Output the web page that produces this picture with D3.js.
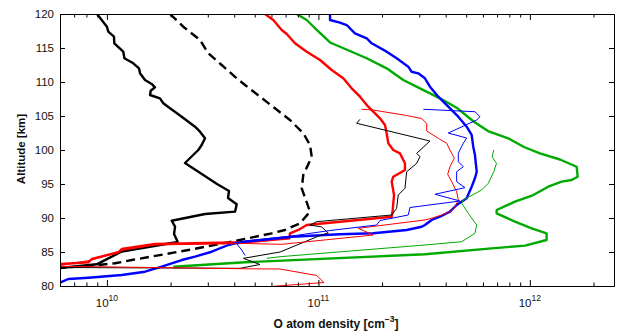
<!DOCTYPE html>
<html>
<head>
<meta charset="utf-8">
<script src="https://cdn.jsdelivr.net/npm/d3@7"></script>
<style>
  body { margin: 0; background: #fff; }
  svg { display: block; font-family: "Liberation Sans", Arial, Helvetica, sans-serif; }
</style>
</head>
<body>
<svg id="chart" width="617" height="334"></svg>
<script>
// altitude (km), O density (cm^-3)
const altitudeTicks = [80, 85, 90, 95, 100, 105, 110, 115, 120];
const densityTicks = [1e10, 1e11, 1e12];
const densityMinor = [7e9, 8e9, 9e9, 2e10, 3e10, 4e10, 5e10, 6e10, 7e10, 8e10, 9e10,
  2e11, 3e11, 4e11, 5e11, 6e11, 7e11, 8e11, 9e11, 2e12];

const thickBlack = [[120,8.98e9],[118.13,1.0e10],[117.4,1.015e10],[116.66,1.08e10],[115.69,1.084e10],[114.46,1.195e10],[113.49,1.21e10],[112.75,1.333e10],[112.01,1.418e10],[111.28,1.434e10],[110.29,1.514e10],[109.71,1.628e10],[109.22,1.688e10],[108.72,1.611e10],[108.09,1.599e10],[107.6,1.782e10],[106.87,1.848e10],[106.13,1.988e10],[104.9,2.258e10],[103.43,2.61e10],[102.69,2.755e10],[101.72,2.91e10],[100.74,2.807e10],[100.0,2.705e10],[98.09,2.34e10],[95.0,3.316e10],[93.97,3.779e10],[92.94,3.738e10],[92.01,4.11e10],[90.93,4.035e10],[90.59,2.91e10],[89.6,2.025e10],[88.72,2.1e10],[87.65,2.077e10],[86.47,2.162e10],[85.07,1.175e10],[83.19,8.95e9],[82.65,6.0e9],[82.5,5.0e9]];

const dashedBlack = [[120,1.988e10],[118.13,2.297e10],[116.18,2.755e10],[114.22,3.016e10],[112.5,3.49e10],[110.54,4.11e10],[109.56,4.498e10],[107.84,5.297e10],[106.13,6.234e10],[104.41,7.34e10],[102.46,8.485e10],[100.74,9.13e10],[99.01,9.3e10],[96.32,8.485e10],[94.37,8.34e10],[90.93,9.13e10],[89.22,8.18e10],[88.24,6.95e10],[87.75,6.015e10],[86.76,4.26e10],[85.29,2.426e10],[83.82,1.31e10],[83.34,1.092e10],[83.09,9.11e9],[82.65,6.0e9],[82.5,5.0e9]];

const thickRed = [[120,5.59e10],[119.12,6.12e10],[117.65,6.71e10],[117.06,7.085e10],[115.69,7.753e10],[114.46,8.805e10],[113.24,1.018e11],[111.76,1.156e11],[110.54,1.311e11],[109.07,1.437e11],[107.84,1.573e11],[106.37,1.721e11],[105.63,1.818e11],[104.66,1.956e11],[103.68,2.065e11],[102.46,2.103e11],[100.99,2.141e11],[100.0,2.26e11],[99.51,2.43e11],[98.04,2.567e11],[97.06,2.567e11],[96.07,2.26e11],[95.34,2.222e11],[93.38,2.279e11],[91.18,2.246e11],[90.19,2.222e11],[88.97,8.805e10],[88.24,8.035e10],[87.75,7.34e10],[87.01,7.285e10],[86.43,4.5e10],[86.18,1.688e10],[85.44,1.175e10],[84.96,1.132e10],[83.97,8.48e9],[83.49,8.17e9],[83.24,6.11e9],[83.16,5.0e9]];

const thickGreen = [[120,7.898e10],[119.12,8.805e10],[117.65,9.82e10],[115.81,1.135e11],[114.56,1.41e11],[113.49,1.692e11],[112.01,2.103e11],[110.29,2.52e11],[109.07,3.023e11],[107.6,3.757e11],[106.13,4.548e11],[104.16,5.44e11],[102.79,6.34e11],[101.72,7.9e11],[100.44,9.38e11],[99.51,1.116e12],[98.6,1.388e12],[97.54,1.665e12],[96.07,1.683e12],[95.59,1.576e12],[95.34,1.414e12],[94.6,1.222e12],[93.38,1.038e12],[92.4,8.5e11],[91.18,6.966e11],[90.69,6.966e11],[89.46,8.5e11],[88.49,1.02e12],[87.75,1.2e12],[86.76,1.2e12],[85.93,9.48e11],[85.54,6.6e11],[84.66,3.19e11],[83.49,4.5e10],[82.84,2.06e10]];

const thickBlue = [[120,1.135e11],[119.12,1.135e11],[118.72,1.265e11],[118.38,1.361e11],[117.16,1.489e11],[116.43,1.692e11],[115.69,1.786e11],[114.46,2.103e11],[113.49,2.345e11],[112.25,2.661e11],[111.51,2.761e11],[111.28,2.967e11],[110.54,3.19e11],[109.31,3.37e11],[107.84,3.69e11],[106.37,4.114e11],[104.9,4.587e11],[103.43,5.026e11],[102.21,5.307e11],[100.49,5.4e11],[99.26,5.5e11],[96.81,5.606e11],[95.84,5.5e11],[94.6,5.307e11],[92.9,5.026e11],[91.91,4.507e11],[90.93,4.19e11],[90.19,3.758e11],[89.71,3.434e11],[88.97,3.19e11],[88.72,3.079e11],[88.24,2.616e11],[87.75,1.818e11],[87.6,1.265e11],[87.25,7.48e10],[86.51,4.5e10],[86.28,4.035e10],[86.03,3.75e10],[85.04,3.13e10],[84.31,2.61e10],[83.82,2.258e10],[82.84,1.816e10],[82.1,1.514e10],[81.62,1.175e10],[81.22,8.17e9],[81.03,6.57e9],[80.49,6.0e9],[80.37,5.0e9]];

const thinBlack = [[104.51,1.573e11],[103.93,1.517e11],[101.32,3.37e11],[99.51,2.916e11],[99.01,3.023e11],[98.04,2.916e11],[96.81,2.616e11],[94.37,2.567e11],[93.38,2.386e11],[91.43,2.345e11],[90.44,2.222e11],[89.46,9.82e10],[88.97,9.13e10],[88.68,1.037e11],[87.79,1.114e11],[87.43,1.018e11],[85.0,6.59e10],[84.07,4.42e10],[83.16,5.29e10],[82.6,4.26e10],[82.72,6.0e9],[82.75,5.0e9]];

const thinRed = [[105.99,1.602e11],[105.88,1.818e11],[105.07,2.616e11],[104.63,3.079e11],[103.9,3.252e11],[102.79,3.252e11],[101.72,3.69e11],[100.99,4.043e11],[100.0,4.19e11],[98.78,4.392e11],[97.54,4.19e11],[96.43,4.088e11],[95.34,4.269e11],[93.87,4.507e11],[92.65,4.587e11],[91.66,4.425e11],[90.93,4.19e11],[90.44,3.828e11],[89.96,3.434e11],[89.71,3.19e11],[88.49,1.545e11],[87.5,1.818e11],[86.13,6.71e10],[86.25,4.5e10],[86.03,1.688e10],[85.22,1.175e10],[83.82,8.48e9],[83.01,6.0e9],[82.94,5.0e9],[82.53,4.5e10],[82.5,6.59e10],[81.54,9.82e10],[80.51,1.063e11],[80.0,6.35e10],[79.7,5.3e10]];

const thinBlue = [[105.99,3.135e11],[105.63,5.5e11],[104.9,5.808e11],[104.41,5.606e11],[102.5,4.114e11],[101.76,5.026e11],[100.99,4.843e11],[100.0,4.672e11],[99.51,4.59e11],[98.28,4.59e11],[97.54,4.843e11],[96.81,4.507e11],[95.34,4.507e11],[94.46,4.932e11],[93.49,3.559e11],[92.5,4.672e11],[91.54,2.71e11],[90.44,2.661e11],[89.63,1.956e11],[88.97,1.887e11],[88.16,1.134e11],[87.35,7.48e10],[86.62,4.5e10],[86.18,4.12e10],[85.29,4.34e10],[84.49,4.5e10]];

const thinGreen = [[100,6.753e11],[99.01,6.63e11],[98.04,6.954e11],[96.81,6.753e11],[95.1,6.36e11],[94.12,5.918e11],[92.65,4.843e11],[92.16,4.76e11],[90.69,5.114e11],[88.97,5.606e11],[87.75,5.5e11],[86.51,4.76e11],[86.03,3.19e11],[84.31,6.59e10],[84.07,5.7e10]];

const red = "#ff0000", blue = "#0000ff", green = "#00aa00", black = "#000000";

const profiles = [
  { data: thickBlack, color: black, width: 2.4 },
  { data: dashedBlack, color: black, width: 2.4, dash: "9,5" },
  { data: thickRed, color: red, width: 2.4 },
  { data: thickGreen, color: green, width: 2.4 },
  { data: thickBlue, color: blue, width: 2.4 },
  { data: thinBlack, color: black, width: 1 },
  { data: thinRed, color: red, width: 1 },
  { data: thinBlue, color: blue, width: 1 },
  { data: thinGreen, color: green, width: 1 },
];

const margin = { top: 14, right: 3, bottom: 48, left: 60 };
const width = 617, height = 334;

const svg = d3.select("#chart");
svg.append("rect").attr("width", width).attr("height", height).attr("fill", "#fff");

const x = d3.scaleLog().domain([6e9, 2.5e12]).range([margin.left, width - margin.right]);
const y = d3.scaleLinear().domain([80, 120]).range([height - margin.bottom, margin.top]);

svg.append("clipPath").attr("id", "plotclip")
  .append("rect")
  .attr("x", margin.left).attr("y", margin.top)
  .attr("width", width - margin.right - margin.left)
  .attr("height", height - margin.bottom - margin.top);

const line = d3.line()
  .x(d => x(d[1]))
  .y(d => y(d[0]));

const plot = svg.append("g").attr("clip-path", "url(#plotclip)");

plot.selectAll("path")
  .data(profiles)
  .enter()
  .append("path")
  .attr("d", d => line(d.data))
  .attr("fill", "none")
  .attr("stroke", d => d.color)
  .attr("stroke-width", d => d.width)
  .attr("stroke-dasharray", d => d.dash || null)
  .attr("stroke-linejoin", "round");

// axes, ticks pointing inward like the original
const bottom = height - margin.bottom;
const right = width - margin.right;

function styleAxis(g) {
  g.selectAll("path.domain").attr("stroke", "#000").attr("stroke-width", 1);
  g.selectAll(".tick line").attr("stroke", "#000");
  g.selectAll("text").attr("font-size", 11.5).attr("fill", "#111")
    .attr("font-family", "Liberation Sans, Arial, Helvetica, sans-serif");
}

svg.append("g")
  .attr("transform", `translate(0,${bottom})`)
  .call(d3.axisBottom(x).tickValues(densityMinor).tickSizeInner(-3.5).tickSizeOuter(0).tickFormat(""))
  .call(styleAxis);
svg.append("g")
  .attr("transform", `translate(0,${bottom})`)
  .call(d3.axisBottom(x).tickValues(densityTicks).tickSizeInner(-6).tickSizeOuter(0).tickFormat(""))
  .call(styleAxis);
svg.append("g")
  .attr("transform", `translate(0,${margin.top})`)
  .call(d3.axisTop(x).tickValues(densityMinor).tickSizeInner(-3.5).tickSizeOuter(0).tickFormat(""))
  .call(styleAxis);
svg.append("g")
  .attr("transform", `translate(0,${margin.top})`)
  .call(d3.axisTop(x).tickValues(densityTicks).tickSizeInner(-6).tickSizeOuter(0).tickFormat(""))
  .call(styleAxis);

svg.append("g")
  .attr("transform", `translate(${margin.left},0)`)
  .call(d3.axisLeft(y).tickValues(altitudeTicks).tickSizeInner(-5).tickSizeOuter(0).tickPadding(6))
  .call(styleAxis);
svg.append("g")
  .attr("transform", `translate(${right},0)`)
  .call(d3.axisRight(y).tickValues(altitudeTicks).tickSizeInner(-5).tickSizeOuter(0).tickFormat(""))
  .call(styleAxis);

// decade labels 10^n
const expLabels = svg.append("g")
  .selectAll("text")
  .data(densityTicks)
  .enter()
  .append("text")
  .attr("x", d => x(d))
  .attr("y", 307)
  .attr("text-anchor", "middle")
  .attr("font-size", 11.5)
  .attr("fill", "#111");
expLabels.append("tspan").text("10");
expLabels.append("tspan")
  .attr("dy", -6)
  .attr("font-size", 8.5)
  .text(d => Math.round(Math.log10(d)));

// axis titles
const xTitle = svg.append("text")
  .attr("x", 336)
  .attr("y", 328)
  .attr("text-anchor", "middle")
  .attr("font-size", 12)
  .attr("font-weight", "bold")
  .attr("fill", "#111");
xTitle.append("tspan").text("O atom density [cm");
xTitle.append("tspan").attr("dy", -6).attr("font-size", 8.5).text("\u22123");
xTitle.append("tspan").attr("dy", 6).text("]");

svg.append("text")
  .attr("transform", "translate(25,149) rotate(-90)")
  .attr("text-anchor", "middle")
  .attr("font-size", 11.5)
  .attr("font-weight", "bold")
  .attr("fill", "#111")
  .text("Altitude [km]");
</script>
</body>
</html>
